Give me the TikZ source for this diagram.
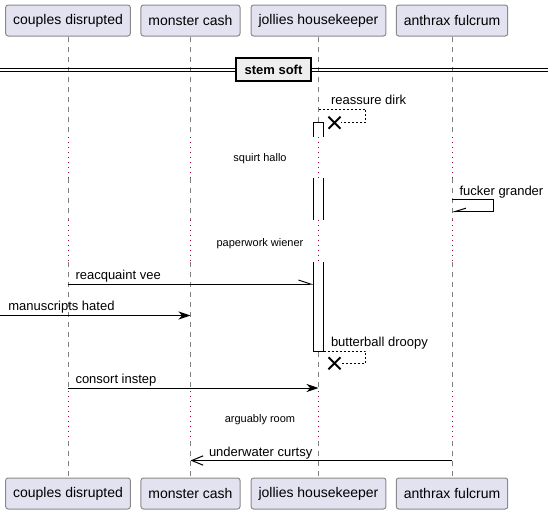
\documentclass[tikz,border=0pt]{standalone}
\usepackage{fontspec}
\setmainfont{Liberation Sans}
\usetikzlibrary{arrows.meta}
\definecolor{partfill}{HTML}{E2E2F0}
\definecolor{partline}{HTML}{8A8A8A}
\definecolor{lifegray}{HTML}{808080}
\definecolor{delayred}{HTML}{A80036}
\definecolor{divfill}{HTML}{EEEEEE}

\begin{document}
\begin{tikzpicture}[x=0.75pt,y=-0.75pt,line width=0.75pt,
  >={Stealth[length=9pt,width=6pt,inset=2.7pt]},
  part/.style={draw=partline,fill=partfill,rounded corners=1.9pt,inner xsep=5.625pt,inner ysep=0pt,minimum height=23.25pt,font=\fontsize{10.5}{12}\selectfont},
  life/.style={draw=lifegray,dash pattern=on 3.75pt off 3.75pt},
  pause/.style={draw=delayred,dash pattern=on 0.75pt off 3pt},
  msg/.style={font=\fontsize{9.75}{11}\selectfont,anchor=base west,inner sep=0pt},
  gap/.style={font=\fontsize{8.25}{10}\selectfont,anchor=base,inner sep=0pt},
  ret/.style={dash pattern=on 1.5pt off 1.5pt},
  bar/.style={fill=white,draw=black},
  cross/.style={line width=1.5pt}]
  \useasboundingbox (0,0) rectangle (553,514);

  % Define participants
  \node[part] (cdT) at (68,20.5) {couples disrupted};
  \node[part] (mcT) at (190.5,20.5) {monster cash};
  \node[part] (jhT) at (318.5,20.5) {jollies housekeeper};
  \node[part] (afT) at (452,20.5) {anthrax fulcrum};
  \node[part] (cdB) at (68,493.5) {couples disrupted};
  \node[part] (mcB) at (190.5,493.5) {monster cash};
  \node[part] (jhB) at (318.5,493.5) {jollies housekeeper};
  \node[part] (afB) at (452,493.5) {anthrax fulcrum};

  % Lifelines with delays
  \foreach \p in {cd,mc,jh,af} {
    \draw[life] (\p T.south) -- (\p T |- 0,137);
    \draw[pause] (\p T |- 0,137) -- (\p T |- 0,178);
    \draw[life] (\p T |- 0,178) -- (\p T |- 0,220);
    \draw[pause] (\p T |- 0,220) -- (\p T |- 0,262);
    \draw[life] (\p T |- 0,262) -- (\p T |- 0,391);
    \draw[pause] (\p T |- 0,391) -- (\p B |- 0,441);
    \draw[life] (\p B |- 0,441) -- (\p B.north);
  }

  % Divider
  \draw (0,68.3) -- (548,68.3) (0,71.7) -- (548,71.7);
  \node[draw,line width=1.5pt,fill=divfill,inner sep=0pt,minimum width=56.25pt,minimum height=17.5pt,font=\bfseries\fontsize{9.75}{11}\selectfont] (stem) at (273.5,69.8) {stem soft};

  % Activation of jollies housekeeper
  \draw[bar] (313.5,137) -- (313.5,122.5) -- (323.5,122.5) -- (323.5,137);
  \fill[white] (313.5,178) rectangle (323.5,220);
  \draw (313.5,178) -- (313.5,220) (323.5,178) -- (323.5,220);
  \draw[bar] (313.5,262) -- (313.5,351) -- (323.5,351) -- (323.5,262);

  % Messages
  \draw[ret] (jhT |- 0,109) -- (365.5,109) -- (365.5,122.7) -- (341,122.7);
  \draw[cross] (328.5,116.7) -- (340.5,128.7) (328.5,128.7) -- (340.5,116.7);
  \node[msg] (reassure) at (330.5,104) {reassure dirk};

  \node[gap] (squirt) at (260,161) {squirt hallo};

  \draw[-{Straight Barb[harpoon,swap,length=8pt,width=5pt]}] (afT |- 0,199.5) -- (493.5,199.5) -- (493.5,211.5) -- (afT |- 0,211.5);
  \node[msg] (fucker) at (459,195) {fucker grander};

  \node[gap] (paperwork) at (260,246) {paperwork wiener};

  \draw[-{Straight Barb[harpoon,length=9pt,width=6pt]}] (cdT |- 0,284) -- (313.5,284);
  \node[msg] (reacquaint) at (75,279.5) {reacquaint vee};

  \coordinate (edge) at (0,315.5);
  \draw[->] (edge) -- (mcT |- 0,315.5);
  \node[msg] (manuscripts) at (7.8,310.5) {manuscripts hated};

  \draw[ret] (323.5,351) -- (365.5,351) -- (365.5,363.3) -- (341,363.3);
  \draw[cross] (328.5,357.3) -- (340.5,369.3) (328.5,369.3) -- (340.5,357.3);
  \node[msg] (butterball) at (330.5,346.5) {butterball droopy};

  \draw[->] (cdT |- 0,388) -- (jhT |- 0,388);
  \node[msg] (consort) at (75,383.5) {consort instep};

  \node[gap] (arguably) at (260,422) {arguably room};

  \draw[-{Straight Barb[length=8.5pt,width=7pt]}] (afT |- 0,460.5) -- (mcT |- 0,460.5);
  \node[msg] (underwater) at (208.5,456) {underwater curtsy};
\end{tikzpicture}
\end{document}
